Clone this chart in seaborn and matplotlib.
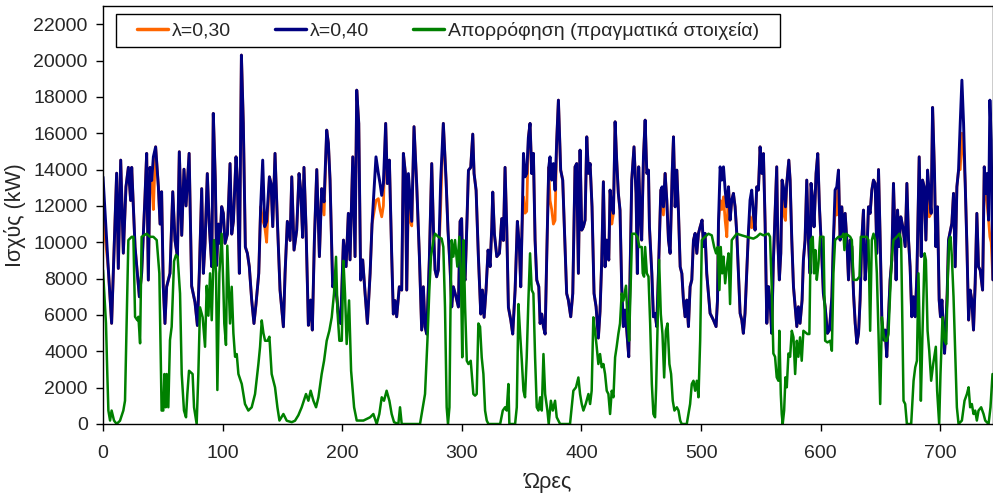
import matplotlib
matplotlib.use("Agg")
import matplotlib.pyplot as plt
from matplotlib.patches import Rectangle
import seaborn as sns
import pandas as pd

# Hourly power, lambda = 0.40 : (hour, kW)
lam40 = [(0,13600),(4.5,8470),(7.2,5540),(8.6,8300),(11.4,13800),(12.8,8560),(14.8,14520),(17,9400),(19.2,13050),(21.2,14120),(23.1,12300),(24,14120),(25.4,12000),(26.8,9740),(28.7,8290),(30.4,7000),(32.3,8290),(35.1,12500),(36.5,14890),(37.9,7920),(39.3,14120),(40.7,13400),(42.1,14700),(44,15250),(46.3,13050),(47.7,11000),(49,12780),(50.4,7550),(51.8,5530),(53.2,7550),(56,8290),(58.3,12780),(60.2,10100),(62.2,9200),(63.8,14980),(65.8,10380),(67.7,14020),(69.4,12000),(72,14890),(74.1,7590),(76.9,6700),(78.9,5420),(80.5,8290),(82.5,12950),(83.9,8290),(85.3,9940),(87.2,13780),(88.9,10850),(90.9,8660),(92.2,17090),(93.9,13420),(95,8720),(96.4,11000),(97.8,9940),(99.2,11960),(100.6,11590),(102,9940),(104,10450),(106.2,14330),(107.6,10450),(109,11150),(111.2,14700),(112.3,13420),(114,8290),(115.7,20300),(117.3,16540),(119,9740),(120.7,9390),(122.3,8660),(124.3,6820),(126.2,5530),(127.9,6600),(130.2,8290),(131.8,11960),(133.5,14520),(135.2,10860),(136.8,11150),(139.1,13600),(140.5,13230),(141.9,10860),(143.8,14890),(145.8,11120),(148,7370),(150.8,5350),(152.2,8290),(154.1,11150),(156.4,10100),(157.8,13600),(159.7,9570),(161.9,10650),(163.9,13780),(165.3,12860),(166.9,10270),(168,14120),(169.7,10850),(171.7,5430),(173.6,6820),(175,5170),(176.7,10100),(178.7,14000),(180.9,9210),(182.8,12950),(184.8,12220),(187,16170),(188.4,15450),(189.8,13420),(192,7550),(194,7920),(196.8,6050),(198.7,5530),(201,10120),(203.2,8660),(205.1,11590),(206.5,9030),(208.8,14700),(210.7,9210),(212.1,18370),(213.8,16540),(215.4,7920),(217.1,9030),(219.1,7180),(221,5530),(223.3,8290),(224.9,11000),(228.2,14700),(230.2,13780),(231.6,13230),(233,12580),(234.4,13230),(236.3,16540),(237.7,13230),(239.4,14520),(241.3,9390),(242.7,6050),(244.1,6790),(245.5,5900),(247.7,7550),(249.7,7370),(251.1,14890),(252.8,13780),(253.9,7370),(255.3,13780),(256.7,12500),(258.1,11150),(260,16360),(262.2,13230),(264.5,9210),(266.4,5170),(267.8,7550),(269.2,5350),(270.6,4950),(272.8,9030),(274.8,14330),(276.2,10820),(277.6,8470),(278.9,8100),(280.3,8470),(282.3,13400),(284.5,16540),(286.8,13400),(288.4,10650),(290.1,8660),(291.5,6440),(292.9,7550),(295.1,7000),(297.1,6440),(298.5,11150),(299.8,11300),(300.7,8290),(302.7,7920),(304.1,10820),(305.5,13960),(307.4,14120),(309.1,15950),(310.2,13780),(311.9,12860),(313.8,9210),(315.8,6050),(317.2,7370),(318.6,5870),(320.2,7370),(321.9,9570),(323.6,8660),(325,10820),(325.8,12760),(327.2,10450),(329.2,9210),(331.4,9390),(333.3,11300),(334.7,10100),(336.1,14120),(337.5,10820),(338.9,6420),(340.9,5710),(342.5,4950),(344.5,7370),(346.4,11150),(348.1,9740),(349.2,7550),(350.3,10820),(351.5,14890),(352.8,13600),(354.2,13780),(355.6,15770),(357,16540),(358.4,13780),(359.8,14890),(361.2,10120),(362.6,7920),(364.3,7550),(365.4,5530),(366.8,6050),(368.2,5350),(369.6,4950),(371,9390),(372.6,14120),(373.7,14700),(375.1,13420),(376.5,14330),(377.9,12860),(379.3,15620),(380.7,17820),(382.6,13970),(384.3,13420),(386.2,9740),(387.6,7180),(389,6820),(391,5900),(392.7,7180),(394.6,14150),(396,14330),(397.4,8290),(398.8,15070),(400.2,10670),(401.6,10850),(403,11220),(404.4,15800),(405.8,13790),(407.2,14330),(408.8,11950),(410.5,7180),(412.2,6450),(414.1,4730),(415.5,6200),(416.9,8950),(418.3,13330),(419.7,8650),(421.1,10120),(422.8,9020),(423.9,12870),(425.3,11950),(426.7,11590),(428.1,16630),(429.4,14520),(430.8,12690),(432.2,11770),(433.6,7560),(435,5360),(436.4,6270),(437.8,5170),(439.5,3700),(440.6,8280),(442,13420),(443.9,15250),(445.6,12690),(446.7,8280),(447.8,14150),(448.9,11950),(450.3,10120),(451.8,14700),(453.2,16720),(454.6,13790),(456,13970),(456.8,10850),(458.8,8280),(460.1,5900),(461.5,6090),(462.9,5360),(464.3,8280),(466.3,12870),(467.4,13050),(468.5,11950),(469.9,13790),(471.3,12320),(472.7,10120),(474.1,9390),(475.8,13790),(476.9,15800),(478.3,11950),(479.7,13970),(481.1,11590),(482.5,8650),(483.9,8280),(485.2,6820),(486.6,5900),(488,6820),(489.4,5360),(490.8,7560),(492.2,7930),(493.6,10120),(495,10490),(496.4,9390),(497.8,10490),(499.2,10850),(500.8,11220),(502,9760),(503.3,10490),(504.7,8280),(506.1,7180),(507.5,6090),(508.9,5900),(510.3,5720),(512.5,5360),(513.7,6820),(514.5,11040),(515.9,14150),(517.3,13420),(518.7,14150),(520.1,12870),(521.5,11950),(522.9,13050),(524.2,11220),(525.6,12320),(527,12690),(528.4,11950),(529.8,10490),(531.2,8280),(532.6,6090),(534,5720),(535.3,4990),(536.7,6090),(538.1,8280),(539.5,10490),(540.9,12320),(542.3,12870),(543.7,11590),(545.1,10670),(546.5,13050),(547.9,12870),(549.3,15250),(550.7,13790),(552.1,14880),(553.5,11040),(554.9,5540),(556.3,7560),(557.6,6820),(559,4990),(560.4,8920),(561.8,11590),(563.2,14150),(564.1,10120),(565.4,7930),(566.6,9390),(567.7,13420),(568.8,13050),(570.5,11950),(571.6,13240),(573.3,14520),(574.4,13420),(575.8,10120),(577.2,7560),(578.6,6450),(580,5360),(581.3,6450),(582.7,5540),(584.4,6820),(585.5,9020),(586.9,10120),(588.3,13420),(589.7,10120),(591.1,8280),(591.9,13240),(593.3,12320),(594.4,10850),(596.1,13790),(597.5,14880),(598.9,11950),(600.8,9390),(602.2,7180),(603.7,6450),(605.6,4990),(607.3,5170),(609.3,7000),(610.6,10120),(612,12870),(613.4,13050),(614.8,13970),(616.2,10120),(617.6,11950),(619,10300),(620.4,11590),(621.8,10120),(623.2,7930),(624.6,10120),(626,9760),(627.4,7180),(628.8,5540),(630.2,4440),(631.6,4990),(632.9,6820),(634.3,10120),(635.7,11770),(637.1,7930),(638.5,9210),(639.9,11950),(641.3,11590),(642.7,12870),(644.1,13420),(645.5,13240),(646.9,9390),(648.3,14000),(649.7,10120),(651.1,5720),(652.5,4620),(653.8,5170),(655.2,3700),(656.6,5900),(658,7930),(659.4,9020),(660.8,13240),(662.2,10120),(663,7930),(664.2,11770),(665.5,9760),(666.9,11400),(668.6,10850),(670.6,9760),(672,13240),(673.4,10120),(674.7,8650),(676.1,5900),(677.5,7000),(679,5900),(680.4,8280),(682.3,14700),(684,9210),(685.1,13420),(686.5,13050),(687.9,10120),(689.3,13970),(690.7,12690),(692.3,11590),(693.5,17420),(695.1,13790),(696.2,9760),(697.6,11950),(699,6820),(700.1,5900),(701.3,6820),(702.6,5170),(703.5,3890),(704.6,5360),(705.7,7180),(706.8,10120),(709.6,11040),(711,12690),(712.4,8650),(713.8,13050),(715.2,13970),(716.6,16540),(718,18920),(719.4,16540),(720.8,13240),(722.2,9760),(723.6,5720),(724.9,7370),(726.3,6820),(727.7,5170),(729.1,7740),(730.5,11590),(731.9,8650),(733.3,8470),(735.3,7370),(736.7,14150),(738.1,12690),(739.2,13790),(740.3,11220),(741.4,17820),(742.5,15620),(743.9,7930)]

# Hours where the lambda = 0.30 curve sits below the lambda = 0.40 curve : (hour, kW)
lam30_lower = [(0,11500),(42.1,11800),(133.5,11200),(136.8,10000),(184.8,11500),(228.2,12300),(230.2,12400),(231.6,11800),(233,11400),(234.4,12000),(255.3,12200),(256.7,11200),(258.1,10900),(282.3,12000),(351.5,12500),(352.8,11600),(354.2,11700),(373.7,12300),(375.1,11800),(376.5,11000),(377.9,11200),(425.3,11000),(467.4,12200),(468.5,11500),(515.9,12300),(517.3,11800),(518.7,12500),(520.1,11200),(521.5,10300),(540.9,11400),(542.3,10800),(568.8,11600),(570.5,11200),(612,11700),(613.4,11500),(690.7,11400),(716.6,14000),(718,16000),(719.4,15000),(739.2,12000),(741.4,10300),(742.5,10000)]

# Measured absorption : (hour, kW)
absorption = [(0,8470),(2.5,5530),(3.6,2750),(4.5,740),(5.9,190),(7.2,740),(9.2,190),(11.4,0),(14.2,180),(17,740),(18.4,1280),(21.2,10120),(24,10300),(25.4,10300),(26.8,5900),(28.7,5710),(29.6,5900),(31,4440),(32.3,10300),(36.5,10470),(39.3,10300),(42.1,10300),(44.9,10120),(47.1,8290),(49,740),(50.4,740),(51.3,2750),(52.4,920),(53.2,2750),(54.6,920),(56,4620),(57.4,5350),(59.4,8960),(61,9300),(62.4,9200),(64.4,7180),(65.8,2750),(67.7,740),(69.4,370),(70.5,1650),(71.9,2930),(74.9,2750),(76.1,920),(78.3,0),(79.7,2750),(81.1,6420),(83.3,5870),(85.3,4250),(86.7,7610),(88.1,5960),(89.5,8290),(90.9,5710),(92.8,10120),(94.5,8290),(95.6,1870),(97.3,8290),(99.2,10470),(100.6,7550),(101.4,5530),(102.8,4350),(103.9,9810),(105.1,7550),(106.2,5530),(107.6,7550),(109,5000),(110.4,3700),(111.8,3850),(113.2,2750),(116,2200),(118.7,1100),(121.5,740),(124.3,920),(127.1,1650),(129.9,3300),(131.3,4250),(132.7,5700),(134.1,5000),(135.5,4580),(137.5,4580),(139.1,4800),(141,2750),(143.8,2020),(145.8,920),(147.5,190),(150.8,550),(153.6,180),(157.8,100),(160.5,180),(163.3,480),(166.1,920),(169.7,1650),(171.7,1280),(173.6,1830),(175.9,1280),(178.1,920),(180.1,1470),(182.8,2750),(184.8,3480),(187,4580),(189.2,5130),(191.2,5870),(193.1,7180),(194.8,9200),(196,6200),(197.6,4580),(199.6,4580),(201,8980),(202.3,7180),(203.7,4400),(205.7,6800),(207.4,2930),(209.9,920),(212.1,190),(217.7,190),(223.3,370),(226,550),(228.8,0),(231,550),(233,1470),(234.9,1280),(237.1,1830),(239.4,1280),(241.3,550),(243.3,100),(246.9,0),(248.3,920),(249.7,0),(265,0),(267.3,920),(269.2,1650),(271.2,4580),(272.8,7370),(274.2,9210),(276.2,10120),(277.6,10470),(280.3,10300),(283.1,10200),(284.5,9740),(285.9,6420),(287.3,920),(288.4,0),(289.6,920),(290.5,6420),(291.5,10120),(292.9,9210),(294.3,10120),(296.2,8660),(297.9,10300),(299.2,8290),(300.3,3670),(301.4,10120),(302.7,6420),(304.1,3480),(305.5,3300),(307.4,3480),(308.3,2750),(309.6,1650),(311,1560),(312.4,1650),(313.8,5530),(315.2,5350),(316.6,3660),(318,2750),(319.4,740),(320.8,190),(322.2,0),(332,0),(334.2,740),(336.1,920),(337.5,740),(338.9,2200),(339.7,0),(344.5,0),(345.9,920),(347.3,6600),(348.7,4950),(350.1,3480),(351.5,1830),(352.8,1470),(354.2,3670),(355.6,6790),(357,9390),(358.4,7370),(359.8,7180),(361.2,3670),(362.6,920),(364,740),(365.4,1470),(366.8,740),(368.2,3850),(369.6,1650),(371.5,740),(372.6,0),(374.4,1280),(376,740),(377.9,1280),(379.3,370),(382.1,0),(390.4,0),(391.8,920),(393.2,1830),(395.4,2020),(397.4,2560),(398.8,1650),(400.2,1100),(401.6,740),(403.5,1100),(405.8,1650),(407.2,1100),(408.5,1830),(409.9,5870),(411.3,5130),(412.7,4250),(414.1,3300),(415.5,3850),(416.9,3120),(418.3,3300),(419.7,2750),(421.1,1830),(422.5,1650),(423.9,550),(425.3,1830),(426.7,1470),(428.1,3670),(429.4,4250),(430.8,4950),(432.2,5530),(433.6,7180),(435,6790),(437.2,7610),(438.4,5870),(439.8,4580),(441.2,7920),(442.3,10470),(444.8,10470),(446.7,10300),(448.4,9740),(450.4,9740),(451.2,8290),(452.3,8110),(453.2,9740),(454.6,8290),(456,8110),(457.4,5530),(458.8,2200),(460.1,550),(461.5,370),(462.4,2020),(463.5,5130),(464.9,9030),(466.3,6050),(467.7,4950),(469.1,2560),(470.5,5130),(471.9,5530),(473.5,3300),(474.9,2750),(476.3,1280),(477.7,740),(479.7,920),(481.1,740),(482.5,190),(483.8,0),(488,0),(489.4,550),(490.8,1100),(492.2,2200),(493.6,2380),(495,1830),(496.4,2380),(497.8,1470),(499.2,4580),(500.6,10120),(503.3,10300),(506.1,10470),(508.9,10380),(510.9,9740),(512.5,9390),(513.9,9740),(515.3,7370),(516.4,9740),(517.6,8290),(518.7,9210),(520.1,7740),(521.5,8660),(522.9,9390),(524.2,6600),(525.6,10120),(529.8,10470),(534,10380),(538.1,10300),(543.7,10200),(546.5,10300),(549.3,10470),(552.1,10380),(556.3,10470),(557.6,10300),(559,7560),(560.4,3880),(561.8,3700),(563.2,2570),(564.6,2380),(565.4,5130),(566.6,1650),(567.4,550),(568.2,0),(569.4,740),(570.5,2570),(571.6,2020),(573,3880),(574.4,3700),(575.8,5130),(577.2,4770),(578.6,2750),(580,4580),(581.3,3700),(582.7,4770),(584.1,3480),(585.5,5130),(588.9,4950),(590.5,4950),(591.6,10120),(593.3,10300),(594.4,8290),(595.5,9570),(596.7,7930),(598.1,8840),(599.5,10300),(602.3,10300),(603.7,4580),(605.6,4490),(607.9,4580),(609.3,4030),(610.6,8290),(612,10120),(614.8,10300),(617.6,10300),(619,10470),(619.8,9570),(621.2,10470),(624.6,10300),(626,10120),(627.4,7930),(630.2,7930),(632.4,8110),(633.5,10300),(638.5,10300),(639.9,10120),(641.3,5130),(642.7,10120),(644.1,10470),(645.5,10120),(646.9,8290),(648.3,4950),(649.7,1100),(651.1,5870),(652.5,4950),(653.8,4580),(655.2,4580),(656.6,4950),(658,7180),(659.4,9210),(660.8,10120),(663.6,10300),(665.8,10470),(667.2,10120),(668,6420),(669.2,1280),(670.6,1100),(672,0),(675.6,0),(677.6,2380),(679,3120),(680.4,3480),(681.7,8290),(682.9,4580),(683.7,1280),(685.1,5130),(686.8,9390),(687.9,9030),(689.3,5130),(690.7,4030),(692.3,2380),(694,3300),(696.2,4250),(697.3,1830),(699,0),(700.1,2750),(701.8,5870),(703.5,4580),(704.9,4400),(706.3,8290),(707.4,10120),(708.5,10300),(709.6,9210),(711,7000),(712.4,4030),(713.8,920),(715.2,0),(718,190),(720.2,1280),(722.2,1650),(723.6,2020),(724.9,920),(726.3,1100),(727.7,550),(729.1,740),(730.5,190),(731.9,740),(734.1,920),(736.1,550),(737.5,190),(740.3,0),(741.9,920),(743.6,2750)]

series_labels = ["λ=0,30", "λ=0,40", "Απορρόφηση (πραγματικά στοιχεία)"]
series_colors = ["#FF6600", "#000080", "#008000"]
y_ticks = list(range(0, 22001, 2000))
x_ticks = list(range(0, 701, 100))

# lambda = 0.30 follows lambda = 0.40 except at the listed hours
lower = dict(lam30_lower)
lam30 = [(h, lower.get(h, v)) for h, v in lam40]

frames = []
for label, pts in zip(series_labels, [lam30, lam40, absorption]):
    df = pd.DataFrame(pts, columns=["hour", "kw"])
    df["series"] = label
    frames.append(df)
data = pd.concat(frames, ignore_index=True)

sns.set_style("ticks")
plt.rcParams["font.family"] = ["Liberation Sans", "DejaVu Sans"]

W, H = 993, 496
fig = plt.figure(figsize=(W / 100, H / 100), dpi=100)
ax = fig.add_axes([103 / W, 72 / H, 890 / W, 418 / H])

widths = {series_labels[0]: 2.0, series_labels[1]: 2.1, series_labels[2]: 1.8}
for label, color in zip(series_labels, series_colors):
    sns.lineplot(data=data[data["series"] == label], x="hour", y="kw",
                 color=color, linewidth=widths[label], ax=ax, label=label,
                 sort=False, estimator=None)

ax.set_xlim(0, 744)
ax.set_ylim(0, 23000)
ax.set_xticks(x_ticks)
ax.set_yticks(y_ticks)
ax.set_xticklabels([str(t) for t in x_ticks])
ax.set_yticklabels([str(t) for t in y_ticks])
ax.tick_params(axis="both", labelsize=14, length=5, width=1, color="black",
               direction="out")
ax.tick_params(axis="x", pad=10)
ax.tick_params(axis="y", pad=6)
for s in ax.spines.values():
    s.set_color("black")
    s.set_linewidth(1.0)

ax.set_xlabel("Ώρες", fontsize=15.5, labelpad=7)
ax.set_ylabel("Ισχύς (kW)", fontsize=15.5, labelpad=5)

# Legend: frameless entries inside a hand-placed box
ax.get_legend().remove()
fig.patches.append(Rectangle((116 / W, (H - 47) / H), 664 / W, 33 / H,
                             transform=fig.transFigure, facecolor="white",
                             edgecolor="black", linewidth=1.0, zorder=5))
handles, labels = ax.get_legend_handles_labels()
leg = fig.legend(handles, labels, loc="center left",
                 bbox_to_anchor=(137 / W, (H - 31) / H), ncol=3,
                 frameon=False, fontsize=14, handlelength=1.6,
                 handletextpad=0.2, columnspacing=2.25,
                 borderpad=0, borderaxespad=0)
leg.set_zorder(6)
for line in leg.get_lines():
    line.set_linewidth(2.5)

fig.savefig("out.png", dpi=100)
